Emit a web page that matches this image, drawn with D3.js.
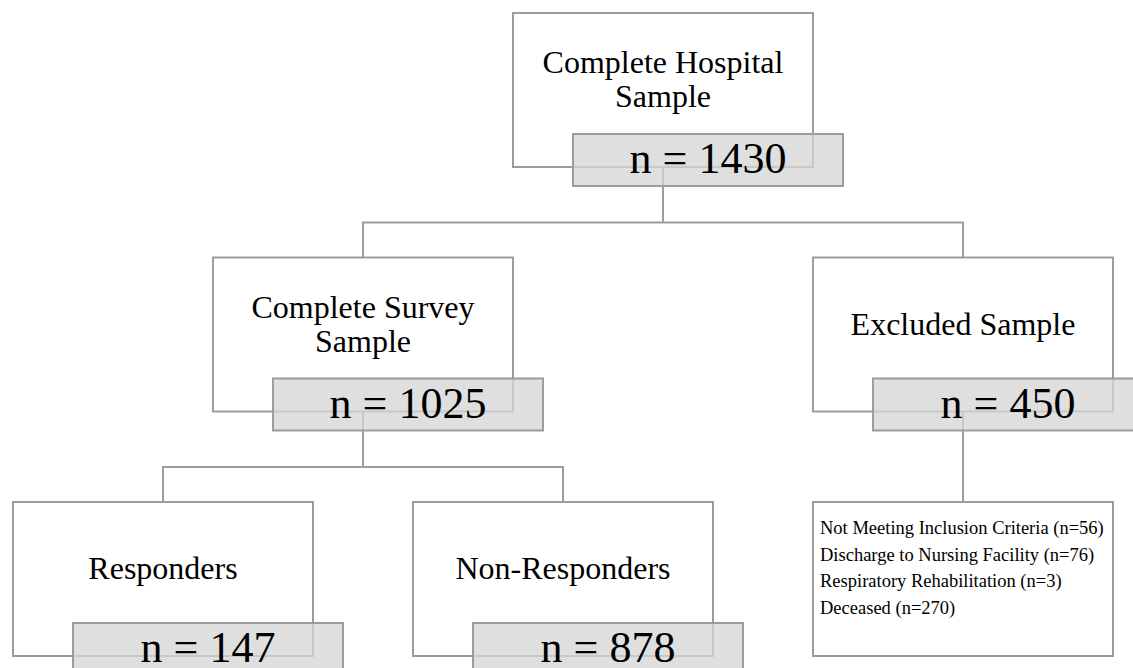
<!DOCTYPE html>
<html>
<head>
<meta charset="utf-8">
<script src="https://cdn.jsdelivr.net/npm/d3@7"></script>
<style>
  html, body { margin: 0; padding: 0; background: #fff; }
  svg { display: block; }
  text { font-family: "Liberation Serif", "Times New Roman", serif; fill: #000; }
</style>
</head>
<body>
<svg id="chart" width="1133" height="668"></svg>
<script>
// ---- data ----
const nodeIds     = ["hospital", "survey", "excluded", "responders", "nonresponders", "exclusions"];
const nodeParents = [null, "hospital", "hospital", "survey", "survey", "excluded"];
const nodeTitles  = [
  ["Complete Hospital", "Sample"],
  ["Complete Survey", "Sample"],
  ["Excluded Sample"],
  ["Responders"],
  ["Non-Responders"],
  []
];
const nodeCounts  = [1430, 1025, 450, 147, 878, null];
const exclusionReasons = [
  "Not Meeting Inclusion Criteria",
  "Discharge to Nursing Facility",
  "Respiratory Rehabilitation",
  "Deceased"
];
const exclusionCounts = [56, 76, 3, 270];

// ---- layout ----
const W = 1133, H = 668;
const boxW = 300, boxH = 154;
const labW = 270, labH = 52, labDx = 60, labDy = 121;
const stroke = "#9c9c9c";

const svg = d3.select("#chart");

const table = nodeIds.map((id, i) => ({
  id, parent: nodeParents[i], title: nodeTitles[i], count: nodeCounts[i]
}));
const root = d3.stratify().id(d => d.id).parentId(d => d.parent)(table);
d3.tree().nodeSize([200, 1]).separation(() => 2)(root);

const x = d3.scaleLinear().domain([0, 1]).range([663, 664]);      // tree x offset -> pixel center
const y = d3.scaleLinear().domain([0, 2]).range([13, 502]);       // depth -> box top

const nodes = root.descendants();
nodes.forEach(n => { n.cx = x(n.x); n.top = y(n.depth); });

// connectors (elbow): from parent box bottom down, across, into child top
const gLinks = svg.append("g");
nodes.filter(n => n.children).forEach(p => {
  const yStart = p.top + boxH;
  if (p.children.length === 1) {
    const c = p.children[0];
    gLinks.append("path")
      .attr("d", `M${p.cx},${yStart}V${c.top}`)
      .attr("fill", "none").attr("stroke", stroke).attr("stroke-width", 2);
  } else {
    const yMid = p.children[0].top - 35;
    gLinks.append("path")
      .attr("d", `M${p.cx},${yStart}V${yMid}`)
      .attr("fill", "none").attr("stroke", stroke).attr("stroke-width", 2);
    const xs = p.children.map(c => c.cx);
    gLinks.append("path")
      .attr("d", `M${d3.min(xs)},${p.children[0].top}V${yMid}H${d3.max(xs)}V${p.children[0].top}`)
      .attr("fill", "none").attr("stroke", stroke).attr("stroke-width", 2);
  }
});

// boxes
const gNodes = svg.append("g").selectAll("g").data(nodes).join("g");
gNodes.append("rect")
  .attr("x", d => d.cx - boxW / 2).attr("y", d => d.top)
  .attr("width", boxW).attr("height", boxH)
  .attr("fill", "none").attr("stroke", stroke).attr("stroke-width", 2);

// titles
gNodes.each(function(d) {
  const lines = d.data.title;
  if (!lines.length) return;
  const lh = 34, mid = d.top + 77;
  const first = mid - (lines.length - 1) * lh / 2;
  const t = d3.select(this).append("text")
    .attr("text-anchor", "middle").attr("font-size", 32);
  lines.forEach((ln, i) => {
    t.append("tspan").attr("x", d.cx).attr("y", first + i * lh).text(ln);
  });
});

// count labels (semi-transparent grey tabs)
const withCount = gNodes.filter(d => d.data.count != null);
withCount.append("rect")
  .attr("x", d => d.cx - boxW / 2 + labDx).attr("y", d => d.top + labDy)
  .attr("width", labW).attr("height", labH)
  .attr("fill", "#d6d6d6").attr("fill-opacity", 0.77)
  .attr("stroke", stroke).attr("stroke-width", 2);
withCount.append("text")
  .attr("x", d => d.cx - boxW / 2 + labDx + labW / 2)
  .attr("y", d => d.top + labDy + 39)
  .attr("text-anchor", "middle").attr("font-size", 44)
  .text(d => `n = ${d.data.count}`);

// exclusion detail list
const ex = nodes.find(n => n.id === "exclusions");
svg.append("g").selectAll("text").data(exclusionReasons).join("text")
  .attr("x", ex.cx - boxW / 2 + 7)
  .attr("y", (d, i) => ex.top + 32 + i * 26.7)
  .attr("font-size", 18.5)
  .text((d, i) => `${d} (n=${exclusionCounts[i]})`);
</script>
</body>
</html>
